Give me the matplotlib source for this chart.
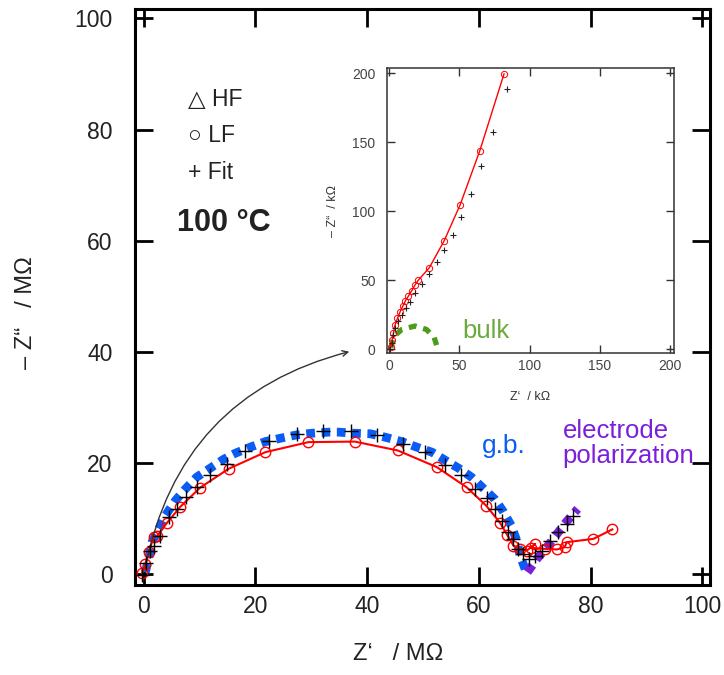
import matplotlib
matplotlib.use("Agg")
import matplotlib.pyplot as plt
import numpy as np
from matplotlib.ticker import MultipleLocator

plt.rcParams['font.family'] = ['Liberation Sans', 'DejaVu Sans']

# main plot data (MOhm)
gb_x = [0.3, 0.9, 1.5, 2.7, 3.9, 5.7, 7.5, 9.5, 11.9, 14.3, 16.4, 19.1, 21.8, 24.5,
        27.4, 30.1, 33.1, 34.9, 37.7, 40.6, 43.2, 46.2, 48.9, 51.6, 53.9, 56.4,
        58.7, 60.8, 62.9, 64.4, 65.8, 66.8, 67.4, 68.4]
gb_y = [0.4, 2.8, 5.8, 8.2, 10.6, 13.3, 15.4, 17.5, 19.1, 20.7, 21.8, 22.9, 23.9, 24.5,
        25.1, 25.4, 25.6, 25.6, 25.4, 25.3, 24.7, 23.9, 22.9, 22.0, 20.6, 19.1,
        17.5, 15.5, 13.5, 11.3, 8.8, 6.1, 3.3, 0.7]
ep_x = [68.7, 70.4, 72.2, 74.0, 75.7, 77.7]
ep_y = [0.4, 2.8, 4.9, 7.3, 9.5, 11.8]

lf_x = [-0.3, 0.3, 0.9, 1.8, 2.4, 4.2, 6.6, 10.1, 15.2, 21.8, 29.5, 37.8, 45.5, 52.5,
        57.8, 61.3, 63.8, 65.1, 66.2, 67.4, 68.6, 70.1, 69.3, 71.9, 74.0, 75.4, 75.7,
        80.5, 83.9]
lf_y = [0.2, 1.9, 4.0, 6.7, 6.9, 9.3, 12.2, 15.6, 19.0, 22.0, 23.8, 23.9, 22.3, 19.3,
        15.7, 12.4, 9.3, 7.1, 5.2, 4.6, 4.3, 5.5, 4.8, 4.6, 4.5, 4.9, 5.8,
        6.4, 8.1]

fit_x = [-0.3, 0.5, 1.2, 1.8, 3.0, 4.5, 6.0, 7.5, 9.5, 11.9, 14.9, 18.2, 22.4, 27.4,
         32.1, 37.1, 41.8, 46.5, 50.3, 53.9, 56.8, 59.3, 61.4, 62.9, 64.1, 65.3,
         66.2, 67.1, 68.0, 68.9, 70.1, 71.3, 72.8, 74.2, 75.7, 76.9]
fit_y = [-0.1, 2.0, 4.3, 5.2, 7.0, 10.3, 11.8, 13.9, 15.7, 17.8, 19.9, 22.2, 24.0, 25.2,
         25.8, 25.8, 25.0, 23.5, 22.0, 19.7, 17.8, 15.4, 13.7, 11.8, 9.7, 7.6,
         6.4, 4.6, 3.7, 2.8, 3.4, 4.3, 6.1, 7.6, 9.1, 10.6]

# inset data (kOhm)
in_lf_x = [1.1, 2.0, 3.0, 4.1, 5.8, 7.7, 9.6, 11.5, 13.6, 16.0, 18.3, 20.7, 28.5,
           39.0, 50.4, 64.4, 81.7]
in_lf_y = [1.6, 6.5, 11.8, 17.4, 22.2, 27.0, 31.1, 35.0, 38.4, 42.3, 46.4, 50.0, 59.0,
           78.4, 104.5, 143.7, 199.6]
in_fit_x = [0.6, 1.8, 3.0, 4.1, 6.5, 8.9, 11.7, 14.8, 18.3, 23.0, 28.0, 33.7, 39.2,
            45.6, 51.3, 58.0, 65.5, 73.9, 83.8]
in_fit_y = [0.0, 4.3, 10.3, 15.1, 20.0, 24.8, 29.6, 33.9, 40.4, 47.2, 54.2, 62.9, 71.8,
            82.7, 96.0, 112.5, 132.8, 157.7, 188.4]
bulk_x = [1.2, 3.0, 8.9, 18.3, 26.5, 32.0, 34.0]
bulk_y = [1.0, 8.9, 14.2, 16.7, 14.2, 8.4, 1.7]

blue = '#0a5cf5'
purple = '#7b1fd9'
green = '#4e9a1c'
txt = '#222222'

fig = plt.figure(figsize=(7.24, 6.75), dpi=100)
ax = fig.add_axes([0.186, 0.1333, 0.794, 0.8533])

ax.plot(gb_x, gb_y, color=blue, lw=6.3, dashes=(1.0, 0.75), dash_capstyle='butt', zorder=2)
ax.plot(ep_x, ep_y, color=purple, lw=6.3, dashes=(1.0, 0.75), dash_capstyle='butt', zorder=2)
ax.plot(lf_x, lf_y, color='red', lw=1.5, marker='o', ms=7.5, mfc='none', mec='red',
        mew=1.0, zorder=3)
ax.plot(fit_x, fit_y, ls='none', marker='+', ms=10, mew=1.0, color='black', zorder=4)

ax.set_xlim(-1.6, 101.3)
ax.set_ylim(-1.9, 101.7)
ax.xaxis.set_major_locator(MultipleLocator(20))
ax.yaxis.set_major_locator(MultipleLocator(20))
ax.tick_params(direction='in', length=13, width=2, labelsize=16.5,
               top=True, right=True, colors='black', labelcolor=txt)
ax.tick_params(axis='x', pad=7)
ax.tick_params(axis='y', pad=16)
for s in ax.spines.values():
    s.set_linewidth(2.2)

fig.text(0.550, 0.022, 'Z\u2018   / M\u03a9', fontsize=17, color=txt, ha='center')
fig.text(0.036, 0.537, '\u2013 Z\u201c   / M\u03a9', fontsize=17, color=txt,
         rotation=90, va='center', ha='center')

ax.text(8.0, 85.5, '\u25b3 HF', fontsize=16.5, color=txt, va='center')
ax.text(8.0, 79.0, '\u25cb LF', fontsize=16.5, color=txt, va='center')
ax.text(8.0, 72.3, '+ Fit', fontsize=16.5, color=txt, va='center')
ax.text(6.0, 63.3, '100 \u00b0C', fontsize=22, fontweight='bold', color=txt,
        va='center')

ax.text(60.6, 21.8, 'g.b.', fontsize=19, color=blue)
ax.text(75.0, 20.0, 'electrode\npolarization', fontsize=18.5, color=purple,
        linespacing=1.05)

ax.annotate('', xy=(37.3, 40.2), xytext=(0.2, 0.6),
            arrowprops=dict(arrowstyle='->', color='#333333', lw=1.0,
                            connectionstyle='arc3,rad=-0.32'))

# inset
ins = fig.add_axes([0.534, 0.477, 0.397, 0.422])
ins.plot(bulk_x, bulk_y, color=green, lw=3.8, dashes=(1.5, 1.3), dash_capstyle='butt',
         zorder=2)
ins.plot(in_lf_x, in_lf_y, color='red', lw=1.0, marker='o', ms=4.5, mfc='none', mec='red',
         mew=0.7, zorder=3)
ins.plot(in_fit_x, in_fit_y, ls='none', marker='+', ms=5, mew=0.8, color='#222222', zorder=4)
ins.set_xlim(-1.9, 202.8)
ins.set_ylim(-2.9, 203.8)
ins.xaxis.set_major_locator(MultipleLocator(50))
ins.yaxis.set_major_locator(MultipleLocator(50))
ins.tick_params(direction='in', length=6, width=1.0, labelsize=10, pad=4,
                top=True, right=True, colors='#333333', labelcolor='#444444')
ins.tick_params(axis='y', pad=8)
for s in ins.spines.values():
    s.set_linewidth(1.1)
    s.set_color('#333333')
ins.set_xlabel('Z\u2018  / k\u03a9', fontsize=9, color='#333333')
ins.set_ylabel('\u2013 Z\u201c  / k\u03a9', fontsize=9, color='#333333')
ins.xaxis.set_label_coords(0.5, -0.135)
ins.yaxis.set_label_coords(-0.165, 0.5)
ins.text(52, 8, 'bulk', fontsize=18.5, color='#6aab3c')

fig.savefig('out.png', dpi=100)
